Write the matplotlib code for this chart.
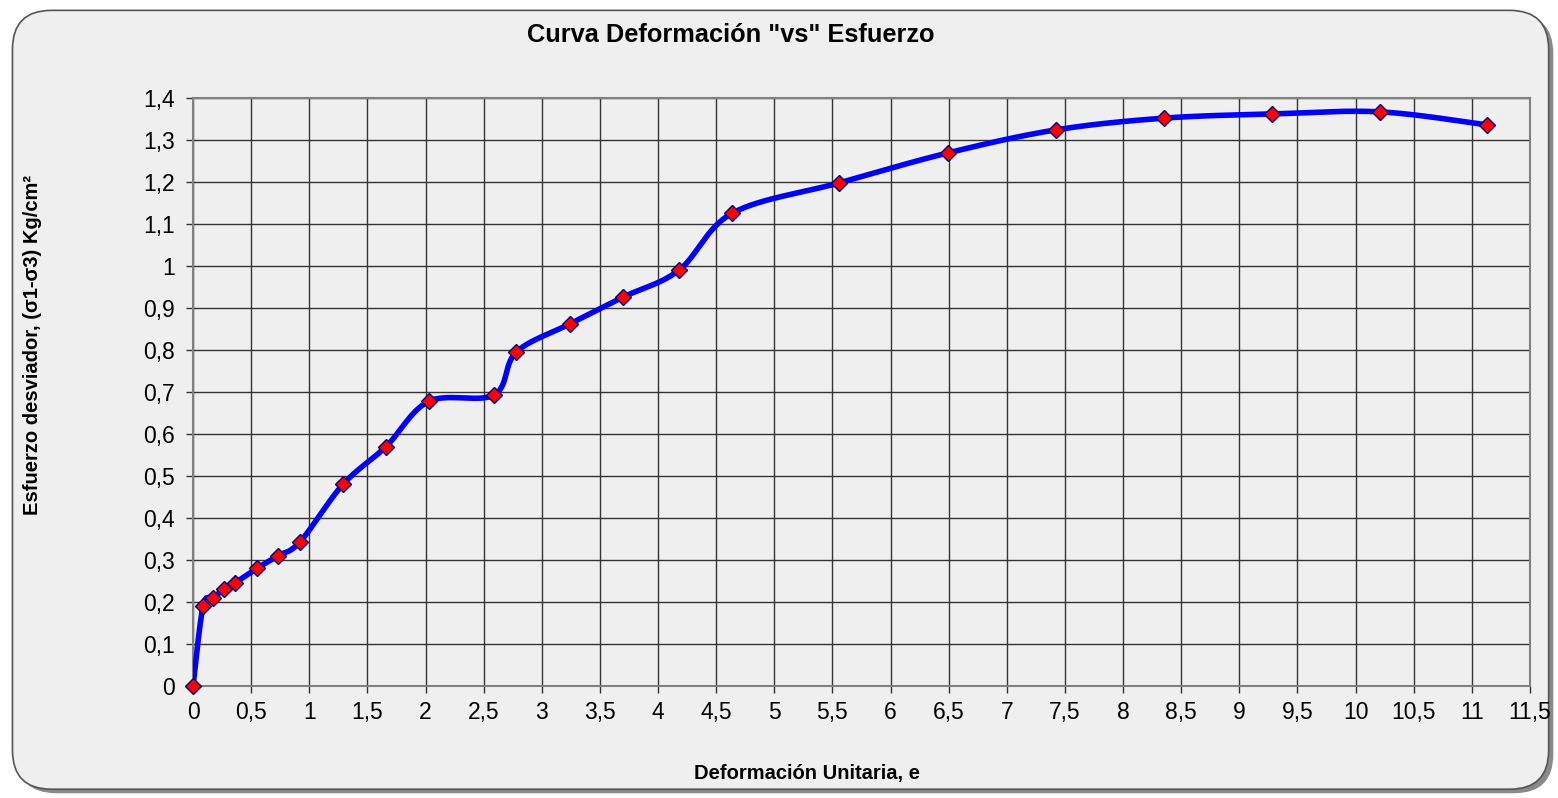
import numpy as np
import matplotlib
matplotlib.use("Agg")
import matplotlib.pyplot as plt
from matplotlib.patches import FancyBboxPatch

# deformación unitaria (%) vs esfuerzo desviador (kg/cm2)
deformacion = [0.0, 0.086, 0.17, 0.27, 0.36, 0.55, 0.73, 0.92, 1.29, 1.66, 2.03,
               2.59, 2.78, 3.24, 3.70, 4.18, 4.64, 5.56, 6.49, 7.42, 8.35, 9.28,
               10.21, 11.13]
esfuerzo = [0.0, 0.19, 0.21, 0.23, 0.245, 0.28, 0.31, 0.343, 0.48, 0.57, 0.678,
            0.693, 0.795, 0.862, 0.926, 0.99, 1.126, 1.198, 1.269, 1.324, 1.352,
            1.362, 1.367, 1.336]

x_ticks = np.arange(0, 11.51, 0.5)
y_ticks = np.arange(0, 1.401, 0.1)


def fmt(v):
    s = f"{v:.1f}".rstrip("0").rstrip(".")
    return s.replace(".", ",")


def smooth(xs, ys, n=30):
    # curva suavizada tipo Excel (Catmull-Rom)
    p = np.column_stack([xs, ys])
    p = np.vstack([p[0], p, p[-1]])
    out = []
    for i in range(1, len(p) - 2):
        p0, p1, p2, p3 = p[i - 1], p[i], p[i + 1], p[i + 2]
        t = np.linspace(0, 1, n)[:, None]
        c = 0.5 * ((2 * p1) + (-p0 + p2) * t + (2 * p0 - 5 * p1 + 4 * p2 - p3) * t**2
                   + (-p0 + 3 * p1 - 3 * p2 + p3) * t**3)
        out.append(c)
    c = np.vstack(out)
    return c[:, 0], c[:, 1]


plt.rcParams["font.family"] = ["Liberation Sans", "DejaVu Sans"]
fig = plt.figure(figsize=(15.58, 7.98), dpi=100)
fig.patch.set_facecolor("white")

# marco redondeado con sombra
shadow = FancyBboxPatch((0.011, 0.006), 0.986, 0.976, boxstyle="round,pad=0,rounding_size=0.025",
                        transform=fig.transFigure, fc="#8a8a8a", ec="none", zorder=-3,
                        mutation_aspect=1558 / 798)
frame = FancyBboxPatch((0.008, 0.011), 0.986, 0.976, boxstyle="round,pad=0,rounding_size=0.025",
                       transform=fig.transFigure, fc="#efefef", ec="#555555", lw=1.2, zorder=-2,
                       mutation_aspect=1558 / 798)
fig.patches.extend([shadow, frame])

ax = fig.add_axes([0.1239, 0.1404, 0.8581, 0.7368])
ax.set_facecolor("none")
sx, sy = smooth(deformacion, esfuerzo)
ax.plot(sx, sy, color="#0000ff", lw=4, zorder=3, solid_capstyle="round")
ax.plot(deformacion, esfuerzo, ls="", marker="D", ms=8.5, mfc="#ff0000", mec="#000080",
        mew=1.0, zorder=4, clip_on=False)

ax.set_xlim(0, 11.5)
ax.set_ylim(0, 1.4)
ax.set_xticks(x_ticks)
ax.set_xticklabels([fmt(v) for v in x_ticks], fontsize=16.5)
ax.set_yticks(y_ticks)
ax.set_yticklabels([fmt(v) for v in y_ticks], fontsize=16.5)
ax.tick_params(length=5, width=1, color="#333333")
ax.tick_params(axis="y", pad=8)
ax.tick_params(axis="x", pad=6)
ax.grid(True, color="#333333", lw=1.0)
ax.set_axisbelow(True)
for s in ax.spines.values():
    s.set_color("#808080")
    s.set_linewidth(1.5)

fig.text(0.469, 0.956, 'Curva Deformación "vs" Esfuerzo', ha="center", va="center",
         fontsize=18.3, weight="bold")
fig.text(0.518, 0.031, "Deformación Unitaria, e", ha="center", va="center",
         fontsize=14.5, weight="bold")
fig.text(0.021, 0.568, "Esfuerzo desviador, (σ1-σ3) Kg/cm²", ha="center", va="center",
         rotation=90, fontsize=14.5, weight="bold")

fig.savefig("out.png", dpi=100)
